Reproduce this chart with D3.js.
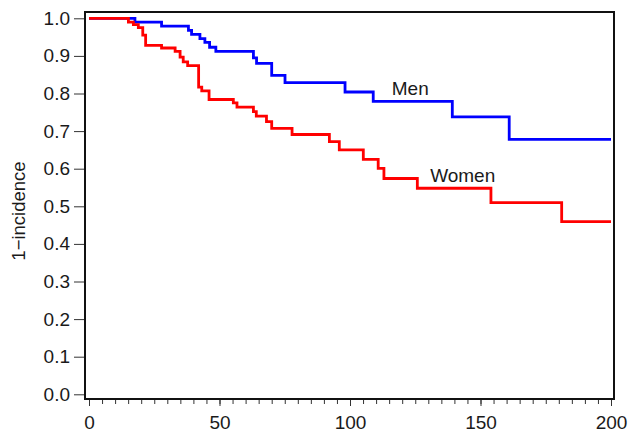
<!DOCTYPE html>
<html>
<head>
<meta charset="utf-8">
<script src="https://cdn.jsdelivr.net/npm/d3@7"></script>
<style>
  body { margin: 0; background: #fff; }
  svg text { font-family: "Liberation Sans", Arial, sans-serif; fill: #1a1a1a; }
</style>
</head>
<body>
<svg></svg>
<script>
const width = 629;
const height = 436;

// step times and survival (1 - incidence)
const menTimes = [0, 17.6, 27.8, 38.1, 39.3, 42.5, 44.4, 46.2, 48.6, 63.0, 64.2, 70.0, 75.1, 98.1, 108.9, 139.2, 161.0, 200];
const menSurv  = [1.0, 0.990, 0.979, 0.968, 0.957, 0.946, 0.936, 0.923, 0.912, 0.895, 0.880, 0.848, 0.829, 0.804, 0.779, 0.738, 0.678, 0.678];

const womenTimes = [0, 15.1, 17.0, 18.9, 20.6, 21.7, 27.8, 33.0, 34.9, 36.1, 37.8, 42.0, 43.2, 46.0, 55.3, 56.7, 63.0, 64.1, 68.0, 70.0, 77.8, 92.1, 95.9, 105.1, 110.8, 113.0, 125.8, 154.0, 181.1, 200];
const womenSurv  = [1.0, 0.990, 0.983, 0.975, 0.955, 0.928, 0.921, 0.912, 0.897, 0.884, 0.874, 0.817, 0.807, 0.784, 0.775, 0.764, 0.752, 0.740, 0.725, 0.707, 0.691, 0.672, 0.650, 0.625, 0.601, 0.574, 0.548, 0.510, 0.459, 0.459];

const seriesNames = ['Men', 'Women'];
const seriesColors = ['#0000ff', '#ff0000'];
const labelTimes = [116, 130.7];
const labelSurv = [0.796, 0.565];

const xTicks = [0, 50, 100, 150, 200];
const yTicks = [0, 0.1, 0.2, 0.3, 0.4, 0.5, 0.6, 0.7, 0.8, 0.9, 1.0];

const svg = d3.select('svg')
  .attr('width', width)
  .attr('height', height);

const frame = { left: 85, right: 614, top: 12, bottom: 399 };

const xScale = d3.scaleLinear()
  .domain([0, 200])
  .range([89, 611]);

const yScale = d3.scaleLinear()
  .domain([0, 1])
  .range([394.3, 18.3]);

// ====================================
// Axes
// ====================================
const yAxis = d3.axisLeft(yScale)
  .tickValues(yTicks)
  .tickFormat(d3.format('.1f'))
  .tickSize(11)
  .tickPadding(4);

const yG = svg.append('g')
  .attr('transform', `translate(${frame.left}, 0)`)
  .call(yAxis);
yG.select('.domain').remove();
yG.selectAll('line').attr('stroke', '#333');
yG.selectAll('text').attr('font-size', 19).attr('fill', '#1a1a1a');

// minor ticks every 5
const xMinor = d3.axisBottom(xScale)
  .tickValues(d3.range(0, 201, 5))
  .tickFormat('')
  .tickSize(4);

const xMinorG = svg.append('g')
  .attr('transform', `translate(0, ${frame.bottom + 1})`)
  .call(xMinor);
xMinorG.select('.domain').remove();
xMinorG.selectAll('line').attr('stroke', '#333');

const xAxis = d3.axisBottom(xScale)
  .tickValues(xTicks)
  .tickSize(6)
  .tickPadding(10);

const xG = svg.append('g')
  .attr('transform', `translate(0, ${frame.bottom + 1})`)
  .call(xAxis);
xG.select('.domain').remove();
xG.selectAll('line').attr('stroke', '#333');
xG.selectAll('text').attr('font-size', 19).attr('fill', '#1a1a1a');

// ====================================
// Frame
// ====================================
svg.append('rect')
  .attr('x', frame.left)
  .attr('y', frame.top)
  .attr('width', frame.right - frame.left)
  .attr('height', frame.bottom - frame.top)
  .attr('fill', 'none')
  .attr('stroke', '#111')
  .attr('stroke-width', 2);

// ====================================
// Step curves
// ====================================
const line = d3.line()
  .x(d => xScale(d[0]))
  .y(d => yScale(d[1]))
  .curve(d3.curveStepAfter);

const series = [
  d3.zip(menTimes, menSurv),
  d3.zip(womenTimes, womenSurv)
];

series.forEach((pts, i) => {
  svg.append('path')
    .datum(pts)
    .attr('d', line)
    .attr('fill', 'none')
    .attr('stroke', seriesColors[i])
    .attr('stroke-width', 2.8)
    .attr('stroke-linejoin', 'miter');
});

// labels
seriesNames.forEach((name, i) => {
  svg.append('text')
    .text(name)
    .attr('x', xScale(labelTimes[i]))
    .attr('y', yScale(labelSurv[i]))
    .attr('font-size', 19);
});

// ====================================
// Y title
// ====================================
svg.append('text')
  .text('1\u2212incidence')
  .attr('transform', 'translate(25, 211) rotate(-90)')
  .attr('text-anchor', 'middle')
  .attr('font-size', 18.5);
</script>
</body>
</html>
